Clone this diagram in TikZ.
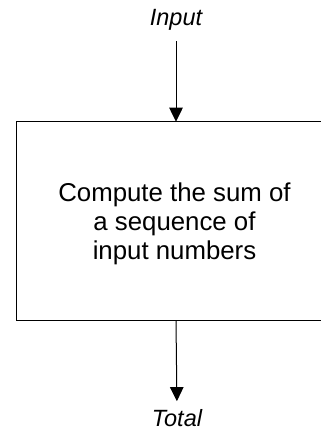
\documentclass[tikz,border=0pt]{standalone}
\usepackage{fontspec}
\setmainfont{Liberation Sans}
\usetikzlibrary{arrows.meta}
\begin{document}
\begin{tikzpicture}[x=1pt,y=-1pt,
  lbl/.style={font=\fontsize{23.5}{27}\selectfont\itshape, inner sep=0pt, outer sep=0pt},
  body/.style={font=\fontsize{25.8}{29}\selectfont, align=center, inner sep=0pt},
  procbox/.style={draw, line width=1pt, minimum width=320pt, minimum height=199pt, inner sep=0pt, outer sep=0pt},
  arr/.style={line width=1pt, -{Triangle[length=14pt,width=13.5pt]}}]
\useasboundingbox (0,0) rectangle (321,431);
\clip (0,0) rectangle (321,431);
\node[lbl, anchor=base] (in) at (176,25.7) {Input};
\node[procbox] (box) at (176,221.2) {};
\node[body] (txt) at (174.5,223.5) {Compute the sum of\\a sequence of\\input numbers};
\node[lbl, anchor=base] (out) at (177,426.7) {Total};
\draw[arr, shorten <=10.5pt] (in.south) -- (box.north);
\draw[arr, shorten >=8.5pt] (box.south) -- (out.north);
\end{tikzpicture}
\end{document}
